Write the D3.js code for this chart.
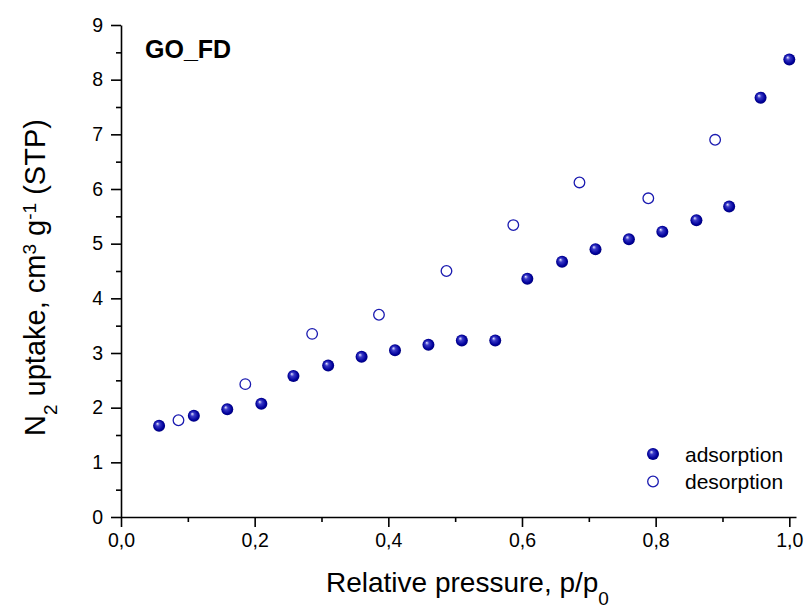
<!DOCTYPE html>
<html>
<head>
<meta charset="utf-8">
<script src="https://cdn.jsdelivr.net/npm/d3@7"></script>
<style>
  body { margin: 0; background: #fff; }
  text { font-family: "Liberation Sans", Arial, sans-serif; }
</style>
</head>
<body>
<div id="chart"></div>
<script>
// adsorption branch (filled spheres)
const adsX = [0.057, 0.109, 0.159, 0.210, 0.258, 0.310, 0.360, 0.410, 0.460, 0.510, 0.560,
              0.608, 0.660, 0.710, 0.760, 0.810, 0.861, 0.910, 0.957, 1.000];
const adsY = [1.67, 1.85, 1.97, 2.07, 2.58, 2.77, 2.93, 3.05, 3.15, 3.23, 3.23,
              4.36, 4.67, 4.90, 5.08, 5.22, 5.43, 5.68, 7.67, 8.37];
// desorption branch (open circles)
const desX = [0.086, 0.186, 0.286, 0.386, 0.487, 0.587, 0.686, 0.789, 0.889];
const desY = [1.77, 2.43, 3.35, 3.70, 4.50, 5.34, 6.12, 5.83, 6.90];

const xTicks = [0, 0.2, 0.4, 0.6, 0.8, 1.0];
const yTicks = [0, 1, 2, 3, 4, 5, 6, 7, 8, 9];
const seriesNames = ["adsorption", "desorption"];

const width = 809, height = 611;
const margin = { top: 25, right: 13, bottom: 94, left: 121 };

const svg = d3.select("#chart").append("svg")
  .attr("width", width)
  .attr("height", height);

// sphere look for the filled markers
const grad = svg.append("defs").append("radialGradient")
  .attr("id", "ball")
  .attr("cx", "50%").attr("cy", "50%").attr("r", "55%")
  .attr("fx", "35%").attr("fy", "32%");
grad.append("stop").attr("offset", "0%").attr("stop-color", "#e8e8ff");
grad.append("stop").attr("offset", "30%").attr("stop-color", "#3a3ac8");
grad.append("stop").attr("offset", "75%").attr("stop-color", "#00009a");
grad.append("stop").attr("offset", "100%").attr("stop-color", "#000070");

const x = d3.scaleLinear().domain([0, 1.01]).range([margin.left, width - margin.right]);
const y = d3.scaleLinear().domain([0, 9]).range([height - margin.bottom, margin.top]);

// axes: major ticks labelled, minor ticks half way
function styleAxis(g) {
  g.selectAll("path, line").attr("stroke", "#000").attr("stroke-width", 1.6);
  g.selectAll("text").attr("fill", "#000").style("font-size", "19.5px")
    .style("font-family", '"Liberation Sans", Arial, sans-serif');
}

const xMinor = d3.range(0.1, 1.0, 0.2);
const yMinor = d3.range(0.5, 9, 1);

svg.append("g")
  .attr("transform", `translate(0,${y(0)})`)
  .call(d3.axisBottom(x).tickValues(xTicks).tickSize(10).tickSizeOuter(0).tickPadding(6)
    .tickFormat(d => d3.format(".1f")(d).replace(".", ",")))
  .call(styleAxis);
svg.append("g")
  .attr("transform", `translate(0,${y(0)})`)
  .call(d3.axisBottom(x).tickValues(xMinor).tickSize(5).tickFormat(""))
  .call(g => g.select(".domain").remove())
  .call(styleAxis);

svg.append("g")
  .attr("transform", `translate(${x(0)},0)`)
  .call(d3.axisLeft(y).tickValues(yTicks).tickSize(10).tickSizeOuter(0).tickPadding(8))
  .call(styleAxis);
svg.append("g")
  .attr("transform", `translate(${x(0)},0)`)
  .call(d3.axisLeft(y).tickValues(yMinor).tickSize(5).tickFormat(""))
  .call(g => g.select(".domain").remove())
  .call(styleAxis);

// data points
const ads = adsX.map((d, i) => [d, adsY[i]]);
const des = desX.map((d, i) => [d, desY[i]]);

svg.append("g").selectAll("circle")
  .data(des).join("circle")
  .attr("cx", d => x(d[0]))
  .attr("cy", d => y(d[1]))
  .attr("r", 5.3)
  .attr("fill", "#fff")
  .attr("stroke", "#1a1ab0")
  .attr("stroke-width", 1.3);

svg.append("g").selectAll("circle")
  .data(ads).join("circle")
  .attr("cx", d => x(d[0]))
  .attr("cy", d => y(d[1]))
  .attr("r", 6)
  .attr("fill", "url(#ball)");

// legend
const leg = svg.append("g").attr("transform", "translate(653,454)");
leg.append("circle").attr("cx", 0).attr("cy", 0).attr("r", 6).attr("fill", "url(#ball)");
leg.append("circle").attr("cx", 0).attr("cy", 27.5).attr("r", 5.3)
  .attr("fill", "#fff").attr("stroke", "#1a1ab0").attr("stroke-width", 1.3);
leg.selectAll("text.lbl")
  .data(seriesNames).join("text")
  .attr("class", "lbl")
  .attr("x", 32)
  .attr("y", (d, i) => 7.5 + i * 27.5)
  .style("font-size", "21px")
  .text(d => d);

// sample name
svg.append("text")
  .attr("x", 145).attr("y", 58)
  .style("font-size", "25px")
  .style("font-weight", "bold")
  .text("GO_FD");

// x title
const xt = svg.append("text")
  .attr("x", 326).attr("y", 592)
  .style("font-size", "28px");
xt.append("tspan").text("Relative pressure, p/p");
xt.append("tspan").attr("dy", 13).style("font-size", "19px").text("0");

// y title
const yt = svg.append("text")
  .attr("transform", "translate(45,436) rotate(-90)")
  .style("font-size", "29px");
yt.append("tspan").text("N");
yt.append("tspan").attr("dy", 12).style("font-size", "19px").text("2");
yt.append("tspan").attr("dy", -12).text(" uptake, cm");
yt.append("tspan").attr("dy", -9).style("font-size", "19px").text("3");
yt.append("tspan").attr("dy", 9).text(" g");
yt.append("tspan").attr("dy", -9).style("font-size", "19px").text("-1");
yt.append("tspan").attr("dy", 9).text(" (STP)");
</script>
</body>
</html>
